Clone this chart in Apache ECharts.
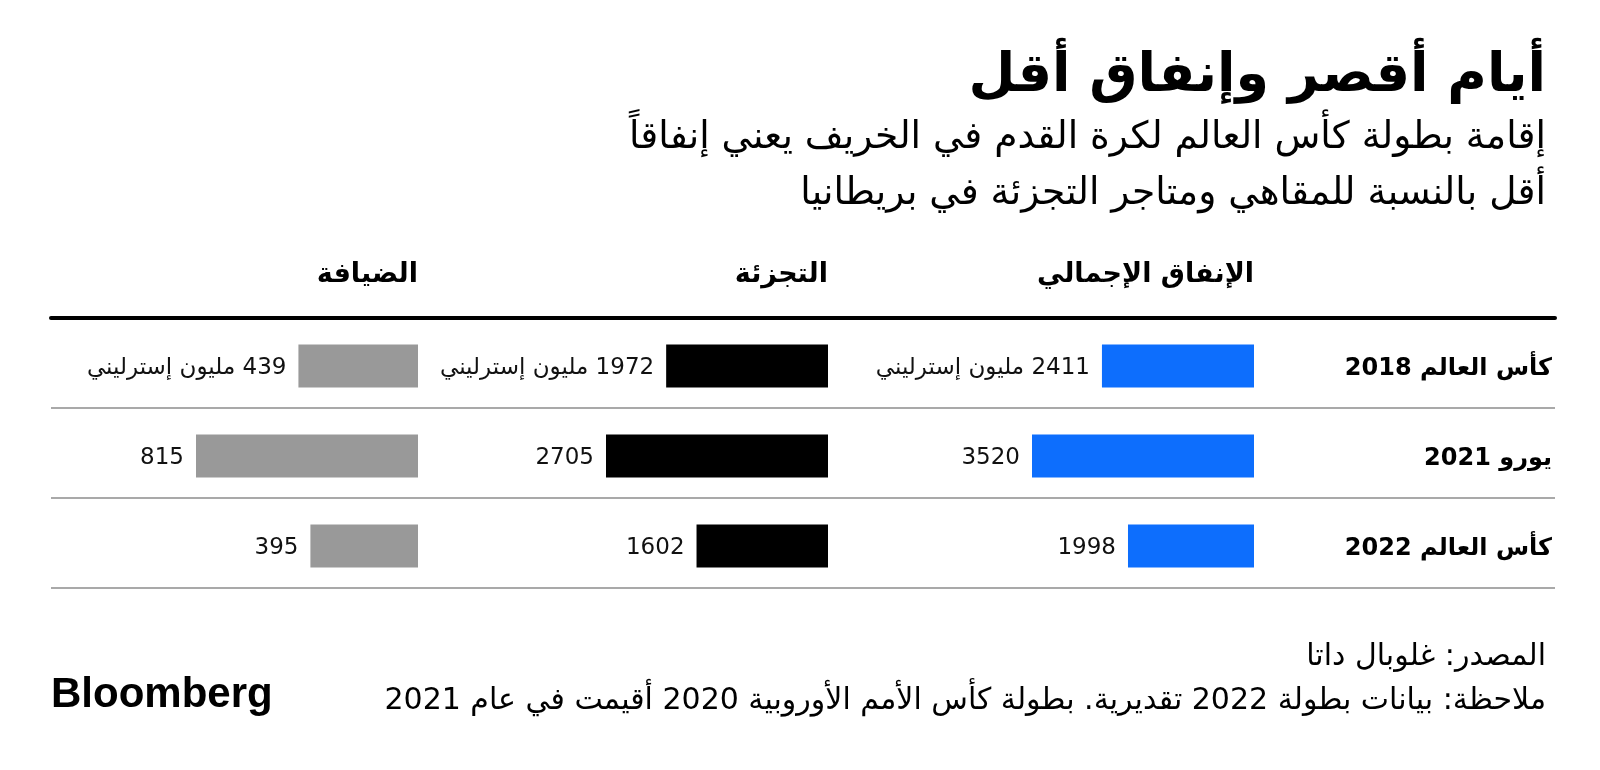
<!DOCTYPE html>
<html>
<head>
<meta charset="utf-8">
<script src="https://cdn.jsdelivr.net/npm/echarts@6/dist/echarts.min.js"></script>
<style>
html,body{margin:0;padding:0;background:#fff;}
#chart{width:1600px;height:770px;}
</style>
</head>
<body>
<div id="chart" dir="rtl"></div>
<script>
// ---- data ----
const categories = ['كأس العالم 2018', 'يورو 2021', 'كأس العالم 2022'];
const columnHeaders = ['الإنفاق الإجمالي', 'التجزئة', 'الضيافة'];
const totalSpend = [2411, 3520, 1998];
const retail = [1972, 2705, 1602];
const hospitality = [439, 815, 395];
const unitText = ' مليون إسترليني';
const titleText = 'أيام أقصر وإنفاق أقل';
const subtitleLines = ['إقامة بطولة كأس العالم لكرة القدم في الخريف يعني إنفاقاً', 'أقل بالنسبة للمقاهي ومتاجر التجزئة في بريطانيا'];
const sourceText = 'المصدر: غلوبال داتا';
const noteText = 'ملاحظة: بيانات بطولة 2022 تقديرية. بطولة كأس الأمم الأوروبية 2020 أقيمت في عام 2021';

// ---- layout ----
const FONT = 'DejaVu Sans';
const colRight = [1254, 828, 418];
const colWidth = 222;
const colColors = ['#0d6efd', '#000000', '#999999'];
const seriesData = [totalSpend, retail, hospitality];
const gridTop = 318, gridH = 270;

const chart = echarts.init(document.getElementById('chart'), null, {renderer: 'canvas'});

// grid 0: separator lines + thick top rule
const grids = [{left: 51, right: 45, top: gridTop, height: gridH}];
const xAxes = [{
  gridIndex: 0, type: 'value', position: 'top', min: 0, max: 1,
  axisLine: {show: true, onZero: false, lineStyle: {color: '#000', width: 4}},
  axisTick: {show: false}, axisLabel: {show: false}, splitLine: {show: false}
}];
const yAxes = [{
  gridIndex: 0, type: 'category', data: categories, inverse: true, position: 'right',
  axisLine: {show: false}, axisTick: {show: false}, axisLabel: {show: false},
  splitLine: {show: true, interval: 0, lineStyle: {color: '#8c8c8c', width: 1.5}}
}];
const series = [];
for (let i = 0; i < 3; i++) {
  grids.push({left: colRight[i] - colWidth, width: colWidth, top: gridTop + 3, height: gridH});
  xAxes.push({gridIndex: i + 1, type: 'value', inverse: true, min: 0, max: 'dataMax', show: false});
  yAxes.push({gridIndex: i + 1, type: 'category', data: categories, inverse: true, show: false});
  series.push({
    type: 'bar', xAxisIndex: i + 1, yAxisIndex: i + 1, data: seriesData[i], barWidth: 43,
    itemStyle: {color: colColors[i]}, silent: true,
    label: {
      show: true, position: 'left', distance: 12, offset: [0, 2], fontFamily: FONT, fontSize: 23, color: '#111',
      formatter: p => p.dataIndex === 0 ? p.value + unitText : String(p.value)
    }
  });
}
// grid 4: row labels (slightly lower than row centre, as in the reference)
grids.push({left: 51, right: 45, top: gridTop + 6, height: gridH});
xAxes.push({gridIndex: 4, type: 'value', show: false});
yAxes.push({
  gridIndex: 4, type: 'category', data: categories, inverse: true, position: 'right',
  axisLine: {show: false}, axisTick: {show: false}, splitLine: {show: false},
  axisLabel: {inside: true, margin: 3, fontFamily: FONT, fontWeight: 'bold', fontSize: 24, color: '#000'}
});

const titles = [
  {text: titleText, right: 54, top: 46, textStyle: {fontFamily: FONT, fontWeight: 'bold', fontSize: 54, lineHeight: 62, color: '#000'}},
  {text: subtitleLines[0], right: 54, top: 116, textStyle: {fontFamily: FONT, fontWeight: 'normal', fontSize: 37.6, lineHeight: 44, color: '#000'}},
  {text: subtitleLines[1], right: 54, top: 172, textStyle: {fontFamily: FONT, fontWeight: 'normal', fontSize: 37.6, lineHeight: 44, color: '#000'}},
  {text: sourceText, right: 54, top: 639, textStyle: {fontFamily: FONT, fontWeight: 'normal', fontSize: 30, lineHeight: 36, color: '#000'}},
  {text: noteText, right: 54, top: 683, textStyle: {fontFamily: FONT, fontWeight: 'normal', fontSize: 30, lineHeight: 36, color: '#000'}},
  {text: 'Bloomberg', left: 51, top: 673, textStyle: {fontFamily: 'Liberation Sans', fontWeight: 'bold', fontSize: 42, lineHeight: 44, color: '#000'}}
];
for (let i = 0; i < 3; i++) {
  titles.push({text: columnHeaders[i], right: 1600 - colRight[i], top: 259,
    textStyle: {fontFamily: FONT, fontWeight: 'bold', fontSize: 27, lineHeight: 32, color: '#000'}});
}
titles.forEach(t => { t.padding = 0; });

chart.setOption({
  backgroundColor: '#ffffff',
  animation: false,
  title: titles,
  grid: grids,
  xAxis: xAxes,
  yAxis: yAxes,
  series: series
});
</script>
</body>
</html>
